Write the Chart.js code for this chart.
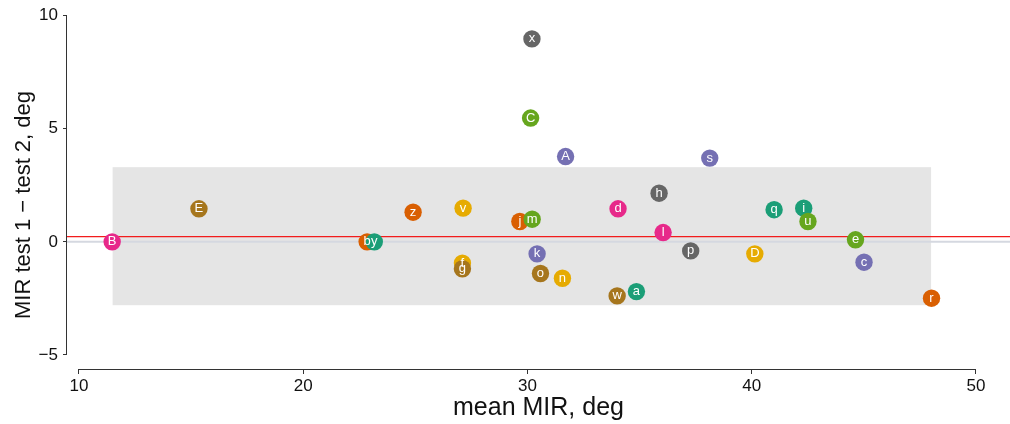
<!DOCTYPE html>
<html>
<head>
<script src="https://cdn.jsdelivr.net/npm/chart.js@4"></script>
<style>
  body { margin: 0; background: #fff; }
</style>
</head>
<body>
<canvas id="canvas" width="1010" height="424"></canvas>
<script>
// subject ids (t is missing in the plot)
const subjects = ['a','b','c','d','e','f','g','h','i','j','k','l','m','n','o','p','q','r','s','u','v','w','x','y','z','A','B','C','D','E'];
const meanMir  = [34.86, 22.85, 45.01, 34.04, 44.63, 27.10, 27.10, 35.87, 42.32, 29.66, 30.43, 36.05, 30.21, 31.56, 30.58, 37.28, 41.00, 48.02, 38.13, 42.51, 27.13, 34.00, 30.20, 23.17, 24.90, 31.70, 11.48, 30.14, 40.14, 15.35];
const mirDiff  = [-2.20, 0.00, -0.90, 1.46, 0.09, -0.94, -1.19, 2.15, 1.49, 0.90, -0.53, 0.41, 1.00, -1.61, -1.40, -0.40, 1.42, -2.49, 3.70, 0.90, 1.49, -2.39, 8.97, 0.00, 1.31, 3.77, 0.00, 5.47, -0.53, 1.46];

const xTicks = [10, 20, 30, 40, 50];
const yTicks = [-5, 0, 5, 10];
const meanBias = 0.23;
const agreementLimits = [-2.8, 3.3];
const bandSpan = [11.5, 48.0];
const yTitle = 'MIR test 1 \u2212 test 2, deg';

// Dark2 palette, cycled over the full id sequence a..z, A..E
const allIds = 'abcdefghijklmnopqrstuvwxyzABCDE';
const dark2 = ['#1B9E77', '#D95F02', '#7570B3', '#E7298A', '#66A61E', '#E6AB02', '#A6761D', '#666666'];
const pointColors = subjects.map((s) => dark2[allIds.indexOf(s) % 8]);

const FONT = '"Liberation Sans", Arial, sans-serif';

const blandAltman = {
  id: 'blandAltman',
  beforeDatasetsDraw(chart) {
    const { ctx, chartArea: a, scales: { x, y } } = chart;
    ctx.save();
    const bx0 = x.getPixelForValue(bandSpan[0]);
    const bx1 = x.getPixelForValue(bandSpan[1]);
    const by0 = y.getPixelForValue(agreementLimits[1]);
    const by1 = y.getPixelForValue(agreementLimits[0]);
    ctx.fillStyle = '#e5e5e5';
    ctx.fillRect(bx0, by0, bx1 - bx0, by1 - by0);

    const y0 = y.getPixelForValue(0);
    ctx.strokeStyle = '#d5d8e0';
    ctx.lineWidth = 2;
    ctx.beginPath();
    ctx.moveTo(a.left, y0);
    ctx.lineTo(a.right, y0);
    ctx.stroke();

    const yb = y.getPixelForValue(meanBias);
    ctx.strokeStyle = '#f21c1c';
    ctx.lineWidth = 1.3;
    ctx.beginPath();
    ctx.moveTo(a.left, yb);
    ctx.lineTo(a.right, yb);
    ctx.stroke();
    ctx.restore();
  },
  afterDatasetsDraw(chart) {
    const { ctx } = chart;
    const meta = chart.getDatasetMeta(0);
    ctx.save();
    ctx.fillStyle = '#fff';
    ctx.font = '13px ' + FONT;
    ctx.textAlign = 'center';
    ctx.textBaseline = 'middle';
    meta.data.forEach((pt, i) => {
      ctx.fillText(subjects[i], pt.x, pt.y);
    });
    ctx.restore();
  },
  afterDraw(chart) {
    const { ctx, chartArea: a, scales: { x, y } } = chart;
    ctx.save();
    ctx.strokeStyle = '#333';
    ctx.lineWidth = 1;
    ctx.beginPath();
    ctx.moveTo(x.getPixelForValue(xTicks[0]), a.bottom + 0.5);
    ctx.lineTo(x.getPixelForValue(xTicks[xTicks.length - 1]), a.bottom + 0.5);
    ctx.moveTo(a.left - 0.5, y.getPixelForValue(yTicks[0]));
    ctx.lineTo(a.left - 0.5, y.getPixelForValue(yTicks[yTicks.length - 1]));
    ctx.stroke();

    // y axis title (R centres it a little lower than the plot area)
    ctx.translate(24, 205);
    ctx.rotate(-Math.PI / 2);
    ctx.fillStyle = '#111';
    ctx.font = '22px ' + FONT;
    ctx.textAlign = 'center';
    ctx.textBaseline = 'middle';
    ctx.fillText(yTitle, 0, 0);
    ctx.restore();
  }
};

new Chart(document.getElementById('canvas').getContext('2d'), {
  type: 'scatter',
  data: {
    datasets: [{
      data: meanMir.map((v, i) => ({ x: v, y: mirDiff[i] })),
      backgroundColor: pointColors,
      borderWidth: 0,
      pointRadius: 8.7,
      pointHoverRadius: 8.7
    }]
  },
  options: {
    responsive: false,
    animation: false,
    devicePixelRatio: 1,
    layout: { autoPadding: false, padding: { top: 2, right: 0, left: 0, bottom: 0 } },
    plugins: {
      legend: { display: false },
      tooltip: { enabled: false }
    },
    scales: {
      x: {
        type: 'linear',
        min: 9.465,
        max: 51.52,
        afterBuildTicks: (s) => { s.ticks = xTicks.map((v) => ({ value: v })); },
        afterFit: (s) => { s.height = 55; s.paddingLeft = 0; s.paddingRight = 0; },
        border: { display: false },
        grid: { drawOnChartArea: false, tickLength: 5, color: '#333' },
        ticks: { font: { size: 17, family: FONT }, color: '#111', padding: 2, maxRotation: 0 },
        title: { display: true, text: 'mean MIR, deg', color: '#111', font: { size: 25, family: FONT }, padding: { top: 0, bottom: 1 } }
      },
      y: {
        type: 'linear',
        min: -5.62,
        max: 10.6,
        afterBuildTicks: (s) => { s.ticks = yTicks.map((v) => ({ value: v })); },
        afterFit: (s) => { s.width = 67; s.paddingTop = 0; s.paddingBottom = 0; },
        border: { display: false },
        grid: { drawOnChartArea: false, tickLength: 4, color: '#333' },
        ticks: {
          font: { size: 17, family: FONT }, color: '#111', padding: 5,
          callback: (v) => (v < 0 ? '\u2212' + Math.abs(v) : String(v))
        },
        title: { display: false }
      }
    }
  },
  plugins: [blandAltman]
});
</script>
</body>
</html>
